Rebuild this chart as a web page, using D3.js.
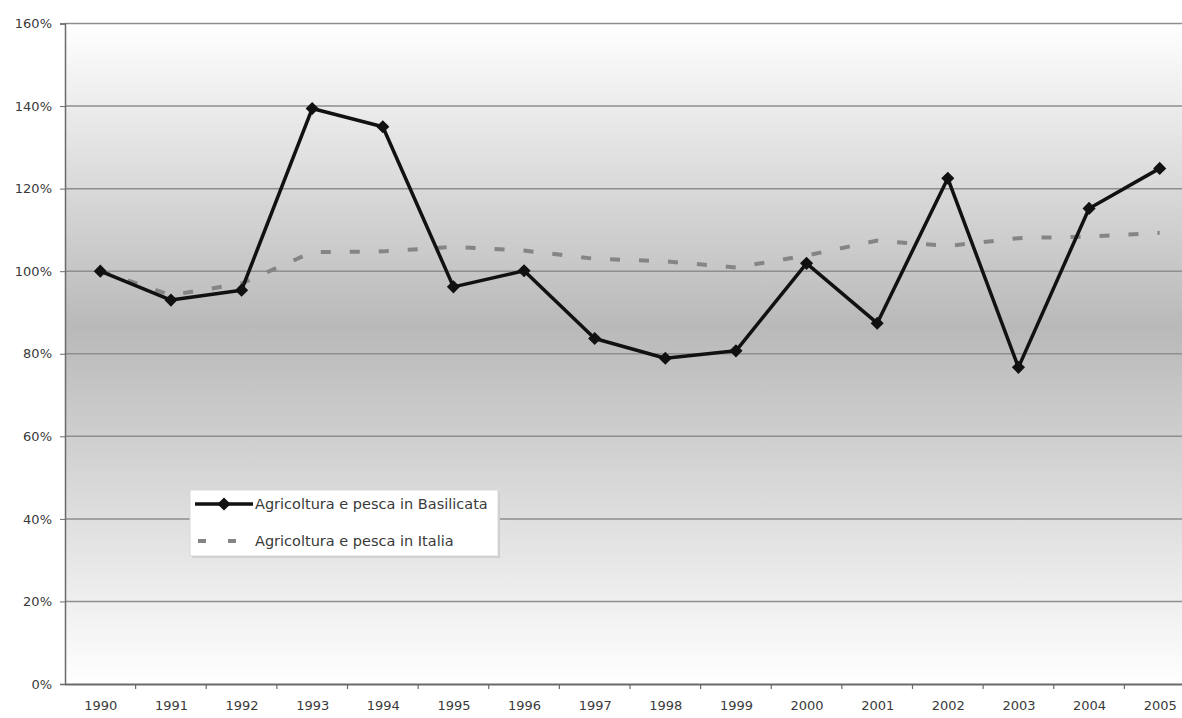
<!DOCTYPE html>
<html>
<head>
<meta charset="utf-8">
<script src="https://cdn.jsdelivr.net/npm/d3@7"></script>
<style>
  body { margin: 0; background: #fff; }
  text { font-family: "DejaVu Sans", Verdana, sans-serif; fill: #3a3a3a; }
</style>
</head>
<body>
<svg width="1182" height="718"></svg>
<script>
const years = ['1990','1991','1992','1993','1994','1995','1996','1997','1998','1999','2000','2001','2002','2003','2004','2005'];
const basilicata = [100, 93.0, 95.4, 139.4, 135.0, 96.2, 100.1, 83.7, 78.9, 80.7, 101.9, 87.4, 122.5, 76.7, 115.2, 124.9];
const italia = [100, 94.2, 97, 104.6, 104.8, 105.9, 105, 103, 102.4, 100.9, 103.8, 107.4, 106.1, 108, 108.4, 109.3];
const yTicks = [0, 20, 40, 60, 80, 100, 120, 140, 160];
const seriesNames = ['Agricoltura e pesca in Basilicata', 'Agricoltura e pesca in Italia'];

const svg = d3.select('svg');
const plotLeft = 65, plotTop = 23.5, plotBottom = 684, plotRight = 1195;
const fontFam = '"DejaVu Sans", Verdana, sans-serif';

const x = d3.scalePoint().domain(years).range([plotLeft, plotRight]).padding(0.5);
const step = x.step();
const y = d3.scaleLinear().domain([0, 160]).range([plotBottom, plotTop]);

// background gradient
const defs = svg.append('defs');
const grad = defs.append('linearGradient').attr('id', 'bg')
  .attr('x1', 0).attr('y1', 0).attr('x2', 0).attr('y2', 1);
grad.append('stop').attr('offset', '0%').attr('stop-color', '#ffffff');
grad.append('stop').attr('offset', '46%').attr('stop-color', '#b9b9b9');
grad.append('stop').attr('offset', '100%').attr('stop-color', '#ffffff');

svg.append('rect')
  .attr('x', plotLeft).attr('y', plotTop)
  .attr('width', plotRight - plotLeft).attr('height', plotBottom - plotTop)
  .attr('fill', 'url(#bg)');

// gridlines
svg.append('g').selectAll('line').data(yTicks.filter(d => d > 0))
  .join('line')
  .attr('x1', plotLeft).attr('x2', plotRight)
  .attr('y1', d => y(d)).attr('y2', d => y(d))
  .attr('stroke', '#8e8e8e').attr('stroke-width', 1.5);

// y axis
const yAxis = svg.append('g').attr('transform', `translate(${plotLeft},0)`)
  .call(d3.axisLeft(y).tickValues(yTicks).tickFormat(d => d + '%').tickSize(5).tickPadding(8));
yAxis.select('.domain').attr('stroke', '#6a6a6a').attr('stroke-width', 1.5);
yAxis.selectAll('.tick line').attr('stroke', '#6a6a6a');
yAxis.selectAll('.tick text').attr('font-size', 13).attr('fill', '#444')
  .attr('font-family', fontFam);

// x axis
const xAxis = svg.append('g').attr('transform', `translate(0,${plotBottom})`)
  .call(d3.axisBottom(x).tickSize(0).tickPadding(17));
xAxis.select('.domain').attr('stroke', '#6a6a6a').attr('stroke-width', 2);
xAxis.selectAll('.tick text').attr('font-size', 13).attr('fill', '#444')
  .attr('font-family', fontFam);
svg.append('g').selectAll('line').data(years.slice(1))
  .join('line')
  .attr('x1', d => x(d) - step / 2).attr('x2', d => x(d) - step / 2)
  .attr('y1', plotBottom).attr('y2', plotBottom + 5)
  .attr('stroke', '#6a6a6a').attr('stroke-width', 1.2);

// Italia dashed line
const line = d3.line().x((d, i) => x(years[i])).y(d => y(d));
svg.append('path').datum(italia)
  .attr('d', line)
  .attr('fill', 'none')
  .attr('stroke', '#858585').attr('stroke-width', 4)
  .attr('stroke-dasharray', '10,19');

// Basilicata solid line
svg.append('path').datum(basilicata)
  .attr('d', line)
  .attr('fill', 'none')
  .attr('stroke', '#111').attr('stroke-width', 3.5)
  .attr('stroke-linejoin', 'round');

const diamond = d3.symbol().type(d3.symbolDiamond2).size(110);
svg.append('g').selectAll('path').data(basilicata)
  .join('path')
  .attr('transform', (d, i) => `translate(${x(years[i])},${y(d)})`)
  .attr('d', diamond)
  .attr('fill', '#111');

// legend
const lg = svg.append('g').attr('transform', 'translate(190,490)');
lg.append('rect').attr('x', 2).attr('y', 2).attr('width', 308).attr('height', 66)
  .attr('fill', '#cfcfcf');
lg.append('rect').attr('width', 308).attr('height', 66)
  .attr('fill', '#ffffff').attr('stroke', '#d8d8d8');
lg.append('line').attr('x1', 5).attr('x2', 63).attr('y1', 14).attr('y2', 14)
  .attr('stroke', '#111').attr('stroke-width', 3.5);
lg.append('path').attr('transform', 'translate(34,14)').attr('d', diamond).attr('fill', '#111');
lg.append('line').attr('x1', 8).attr('x2', 63).attr('y1', 51).attr('y2', 51)
  .attr('stroke', '#858585').attr('stroke-width', 4).attr('stroke-dasharray', '8,22');
lg.selectAll('text.lab').data(seriesNames)
  .join('text')
  .attr('class', 'lab')
  .attr('x', 65).attr('y', (d, i) => i === 0 ? 14 : 51)
  .attr('dy', '0.35em')
  .attr('font-size', 14.5)
  .attr('fill', '#444')
  .text(d => d);
</script>
</body>
</html>
